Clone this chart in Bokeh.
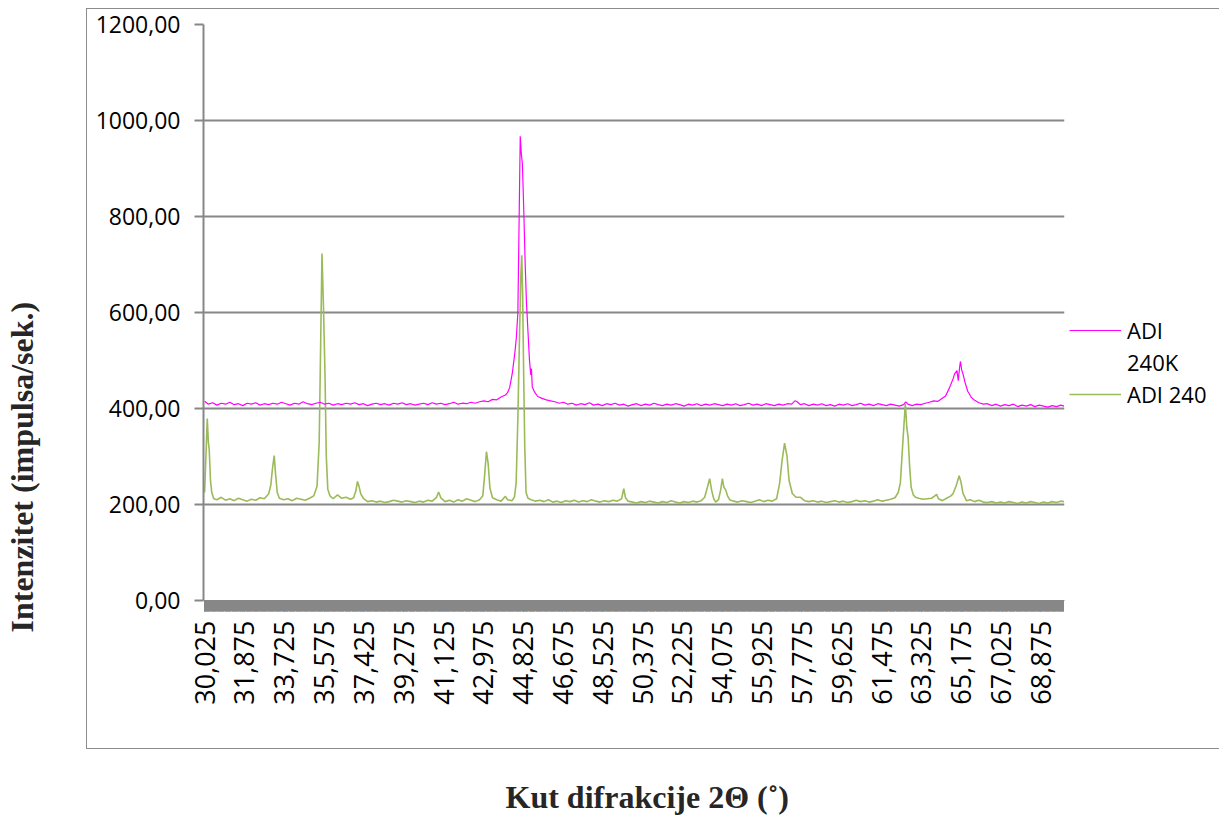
import numpy as np
from math import pi
from bokeh.plotting import figure
from bokeh.models import (FixedTicker, CustomJSTickFormatter, Legend, LegendItem,
                          Title, Range1d, LinearAxis, InlineStyleSheet)
from bokeh.embed import file_html
from bokeh.resources import INLINE

# ---------------- data ----------------
two_theta_240k = [
    30.025, 30.2, 30.4, 30.6, 30.8, 31.0, 31.2, 31.4, 31.6, 31.8, 32.0, 32.2, 32.4, 32.6, 32.8,
    33.0, 33.2, 33.4, 33.6, 33.8, 34.0, 34.2, 34.4, 34.6, 34.8, 35.0, 35.2, 35.4, 35.6, 35.8,
    36.0, 36.2, 36.4, 36.6, 36.8, 37.0, 37.2, 37.4, 37.6, 37.8, 38.0, 38.2, 38.4, 38.6, 38.8,
    39.0, 39.2, 39.4, 39.6, 39.8, 40.0, 40.2, 40.4, 40.6, 40.8, 41.0, 41.2, 41.4, 41.6, 41.8,
    42.0, 42.2, 42.4, 42.6, 42.8, 43.0, 43.2, 43.4, 43.6, 43.8, 44.0, 44.1, 44.2, 44.32, 44.45,
    44.51, 44.58, 44.64, 44.69, 44.74, 44.79, 44.85, 44.92, 44.98, 45.05, 45.12, 45.18, 45.21,
    45.25, 45.36, 45.5, 45.7, 45.9, 46.1, 46.3, 46.5, 46.7, 46.9, 47.1, 47.3, 47.5, 47.7, 47.9,
    48.1, 48.3, 48.5, 48.7, 48.9, 49.1, 49.3, 49.5, 49.7, 49.9, 50.1, 50.3, 50.5, 50.7, 50.9,
    51.1, 51.3, 51.5, 51.7, 51.9, 52.1, 52.3, 52.5, 52.7, 52.9, 53.1, 53.3, 53.5, 53.7, 53.9,
    54.1, 54.3, 54.5, 54.7, 54.9, 55.1, 55.3, 55.5, 55.7, 55.9, 56.1, 56.3, 56.5, 56.7, 56.9,
    57.1, 57.3, 57.45, 57.55, 57.7, 57.9, 58.1, 58.3, 58.5, 58.7, 58.9, 59.1, 59.3, 59.5, 59.7,
    59.9, 60.1, 60.3, 60.5, 60.7, 60.9, 61.1, 61.3, 61.5, 61.7, 61.9, 62.1, 62.3, 62.5, 62.6,
    62.7, 62.9, 63.1, 63.3, 63.5, 63.7, 63.9, 64.1, 64.2, 64.45, 64.64, 64.8, 64.87, 64.98,
    65.04, 65.1, 65.14, 65.2, 65.26, 65.35, 65.48, 65.65, 65.8, 66.0, 66.2, 66.4, 66.6, 66.8,
    67.0, 67.2, 67.4, 67.6, 67.8, 68.0, 68.2, 68.4, 68.6, 68.8, 69.0, 69.2, 69.4, 69.6, 69.8,
    69.95,
]
adi_240k = [
    415, 409, 412, 407, 411, 409, 413, 408, 410, 406, 411, 409, 412, 407, 410,
    408, 411, 409, 413, 410, 407, 411, 409, 414, 410, 408, 411, 413, 409, 411,
    407, 410, 408, 411, 409, 412, 408, 410, 406, 409, 411, 408, 410, 407, 411,
    409, 412, 408, 410, 407, 409, 411, 408, 412, 409, 411, 408, 410, 413, 409,
    411, 410, 413, 411, 414, 416, 414, 419, 418, 424, 428, 433, 444, 473, 520,
    548, 600, 800, 967, 930, 910, 820, 700, 620, 560, 500, 470, 483,
    445, 434, 425, 421, 418, 416, 414, 411, 413, 409, 411, 407, 410, 408, 412,
    407, 409, 406, 410, 408, 411, 407, 409, 405, 408, 410, 406, 409, 407, 411,
    408, 406, 409, 407, 410, 408, 405, 409, 407, 410, 406, 409, 407, 410, 408,
    406, 409, 407, 410, 406, 408, 411, 407, 409, 406, 410, 408, 406, 409, 407,
    410, 409, 416, 414, 408, 410, 406, 409, 407, 410, 406, 408, 405, 409, 407,
    410, 406, 408, 411, 407, 409, 406, 410, 408, 406, 409, 407, 405, 408, 414,
    409, 406, 409, 408, 411, 413, 416, 415, 418, 426, 444, 462, 472, 479,
    458, 485, 498, 480, 472, 455, 436, 423, 417, 412, 409, 410, 406, 409,
    405, 408, 406, 409, 404, 407, 405, 408, 404, 407, 405, 403, 406, 404, 407,
    405,
]

two_theta_240 = [
    30.025, 30.08, 30.15, 30.2, 30.24, 30.3, 30.36, 30.45, 30.6, 30.8, 31.0, 31.2, 31.4, 31.6,
    31.8, 32.0, 32.2, 32.4, 32.6, 32.8, 33.0, 33.1, 33.18, 33.26, 33.32, 33.4, 33.5, 33.7, 33.9,
    34.1, 34.3, 34.5, 34.7, 34.9, 35.1, 35.25, 35.35, 35.42, 35.48, 35.55, 35.62, 35.68, 35.75,
    35.85, 36.0, 36.2, 36.4, 36.6, 36.8, 36.95, 37.05, 37.13, 37.2, 37.28, 37.4, 37.6, 37.8,
    38.0, 38.2, 38.4, 38.6, 38.8, 39.0, 39.2, 39.4, 39.6, 39.8, 40.0, 40.2, 40.4, 40.6, 40.8,
    40.9, 41.0, 41.2, 41.4, 41.6, 41.8, 42.0, 42.2, 42.4, 42.6, 42.8, 42.95, 43.03, 43.12, 43.2,
    43.28, 43.4, 43.6, 43.8, 44.0, 44.1, 44.3, 44.42, 44.5, 44.58, 44.66, 44.72, 44.76, 44.8,
    44.85, 44.9, 44.96, 45.05, 45.2, 45.4, 45.6, 45.8, 46.0, 46.2, 46.4, 46.6, 46.8, 47.0, 47.2,
    47.4, 47.6, 47.8, 48.0, 48.2, 48.4, 48.6, 48.8, 49.0, 49.2, 49.4, 49.5, 49.58, 49.7, 49.9,
    50.1, 50.3, 50.5, 50.7, 50.9, 51.1, 51.3, 51.5, 51.7, 51.9, 52.1, 52.3, 52.5, 52.7, 52.9,
    53.1, 53.26, 53.38, 53.49, 53.58, 53.68, 53.77, 53.9, 54.0, 54.08, 54.15, 54.23, 54.32,
    54.42, 54.6, 54.8, 55.0, 55.2, 55.4, 55.6, 55.8, 56.0, 56.2, 56.4, 56.6, 56.74, 56.85, 56.97,
    57.08, 57.18, 57.33, 57.5, 57.71, 57.9, 58.1, 58.3, 58.5, 58.7, 58.9, 59.1, 59.3, 59.5, 59.7,
    59.9, 60.1, 60.3, 60.5, 60.7, 60.9, 61.1, 61.3, 61.5, 61.7, 61.9, 62.1, 62.25, 62.35, 62.47,
    62.58, 62.65, 62.71, 62.78, 62.85, 62.95, 63.05, 63.2, 63.4, 63.6, 63.8, 63.95, 64.03, 64.12,
    64.3, 64.5, 64.7, 64.8, 64.95, 65.08, 65.16, 65.26, 65.42, 65.6, 65.8, 66.0, 66.2, 66.4,
    66.6, 66.8, 67.0, 67.2, 67.4, 67.6, 67.8, 68.0, 68.2, 68.4, 68.6, 68.8, 69.0, 69.2, 69.4,
    69.6, 69.8, 69.95,
]
adi_240 = [
    225, 290, 379, 330, 315, 250, 225, 212, 210, 215, 209, 212, 208, 213,
    210, 207, 211, 209, 214, 212, 222, 240, 275, 302, 265, 225, 213, 210, 212,
    208, 213, 211, 209, 213, 218, 238, 330, 540, 723, 610, 470, 300, 232,
    218, 212, 220, 213, 215, 211, 214, 228, 248, 238, 222, 213, 206, 208,
    205, 207, 204, 206, 209, 207, 205, 208, 206, 204, 207, 205, 209, 207, 215,
    226, 214, 206, 209, 205, 210, 207, 212, 209, 206, 210, 218, 258, 310, 285,
    235, 214, 210, 207, 217, 210, 208, 215, 245, 380, 560, 680, 719, 640,
    470, 320, 225, 213, 210, 207, 209, 206, 210, 205, 207, 204, 208, 206, 209,
    205, 208, 206, 210, 207, 205, 208, 206, 209, 207, 212, 233, 214, 207, 205,
    203, 206, 204, 207, 205, 203, 206, 204, 208, 205, 203, 206, 204, 207, 205,
    208, 215, 235, 254, 230, 212, 205, 210, 230, 254, 236, 231, 218,
    210, 207, 205, 208, 206, 204, 207, 210, 206, 209, 207, 212, 244, 290, 328,
    302, 250, 223, 215, 215, 208, 206, 208, 205, 207, 204, 206, 208, 205, 207,
    204, 206, 209, 206, 208, 205, 207, 210, 207, 209, 211, 214, 225, 245, 333,
    410, 360, 340, 280, 236, 220, 215, 213, 211, 212, 213, 218, 221, 212,
    208, 213, 218, 223, 240, 260, 248, 223, 208, 210, 206, 209, 205, 204,
    206, 203, 205, 203, 206, 204, 202, 205, 203, 206, 204, 202, 205, 203, 206,
    204, 207, 206,
]

series_names = ["ADI 240K", "ADI 240"]
x_tick_labels = ["30,025", "31,875", "33,725", "35,575", "37,425", "39,275", "41,125",
                 "42,975", "44,825", "46,675", "48,525", "50,375", "52,225", "54,075",
                 "55,925", "57,775", "59,625", "61,475", "63,325", "65,175", "67,025",
                 "68,875"]
y_tick_values = [0, 200, 400, 600, 800, 1000, 1200]
x_title = "Kut difrakcije 2\u0398 (\u02da)"
y_title = "Intenzitet (impulsa/sek.)"

# ---------------- figure ----------------
GRID = "#878787"
p = figure(frame_width=861, frame_height=576, output_backend="svg", toolbar_location=None,
           x_range=Range1d(29.975, 69.975), y_range=Range1d(0, 1200),
           min_border_left=203, min_border_right=155, min_border_top=24,
           min_border_bottom=215)
p.outline_line_color = None
p.background_fill_color = "white"
p.border_fill_color = "white"
# thin frame of the chart area (as in the spreadsheet chart)
p.stylesheets = [InlineStyleSheet(css=(
    ":host { position: relative; }"
    ":host::after { content: ''; position: absolute; left: 86px; top: 8px; "
    "width: 1200px; height: 739px; border: 1px solid #8c8c8c; pointer-events: none; }"))]

x_ticks = [float(s.replace(",", ".")) for s in x_tick_labels]
cat_positions = list(np.round(29.975 + 0.025 * np.arange(1, 1600), 3))

xa = p.xaxis[0]
xa.ticker = FixedTicker(ticks=x_ticks, minor_ticks=cat_positions)
xa.formatter = CustomJSTickFormatter(code="return tick.toFixed(3).replace('.', ',');")
xa.major_label_orientation = pi / 2
xa.major_label_text_font = "Open Sans"
xa.major_label_text_font_size = "27px"
xa.major_label_text_color = "black"
xa.major_label_standoff = 9
xa.axis_line_color = GRID
xa.major_tick_in = 0
xa.major_tick_out = 11
xa.minor_tick_in = 0
xa.minor_tick_out = 11
xa.major_tick_line_color = GRID
xa.minor_tick_line_color = GRID
xa.minor_tick_line_width = 1

ya = p.yaxis[0]
ya.ticker = FixedTicker(ticks=y_tick_values)
ya.formatter = CustomJSTickFormatter(code="return tick.toFixed(2).replace('.', ',');")
ya.major_label_text_font = "Open Sans"
ya.major_label_text_font_size = "23px"
ya.major_label_text_color = "black"
ya.major_label_standoff = 14
ya.axis_line_color = GRID
ya.axis_line_width = 2
ya.major_tick_in = 0
ya.major_tick_out = 9
ya.major_tick_line_color = GRID
ya.major_tick_line_width = 2
ya.minor_tick_line_color = None

p.xgrid.grid_line_color = None
p.ygrid.grid_line_color = GRID
p.ygrid.grid_line_width = 2


def spacer_axis(size, tick):
    # an empty axis used only to reserve room between tick labels and a title
    return LinearAxis(ticker=FixedTicker(ticks=[tick]),
                      formatter=CustomJSTickFormatter(code="return '';"),
                      axis_line_color=None, major_tick_line_color="white",
                      minor_tick_line_color=None, major_tick_in=0, major_tick_out=size,
                      major_label_standoff=0, major_label_text_font_size="1px")


title_kw = dict(text_font="Liberation Serif", text_font_style="bold",
                text_font_size="32px", text_color="#262626", standoff=0,
                vertical_align="middle", align="left")

# y-axis title, outside the y tick labels
p.add_layout(spacer_axis(52, y_tick_values[-1]), "left")
p.add_layout(Title(text=y_title, offset=-32, **title_kw), "left")
# x-axis title, below the rotated tick labels
p.add_layout(spacer_axis(70, x_ticks[-1]), "below")
p.add_layout(Title(text=x_title, offset=302, **title_kw), "below")

r_green = p.line(two_theta_240, adi_240, line_color="#9BBB59", line_width=1.6)
r_mag = p.line(two_theta_240k, adi_240k, line_color="#FF00FF", line_width=1.2)
r_blank = p.line([], [], line_alpha=0)

first = series_names[0].split(" ")
legend = Legend(items=[LegendItem(label=first[0], renderers=[r_mag]),
                       LegendItem(label=first[1], renderers=[r_blank]),
                       LegendItem(label=series_names[1], renderers=[r_green])],
                location=(5, 190), padding=0, margin=0, spacing=0,
                glyph_width=52, glyph_height=32, label_height=32, label_standoff=6,
                label_text_font="Open Sans", label_text_font_size="22px",
                label_text_color="black",
                border_line_color=None, background_fill_alpha=0)
p.add_layout(legend, "right")

open("out.html", "w").write(file_html(p, INLINE))
